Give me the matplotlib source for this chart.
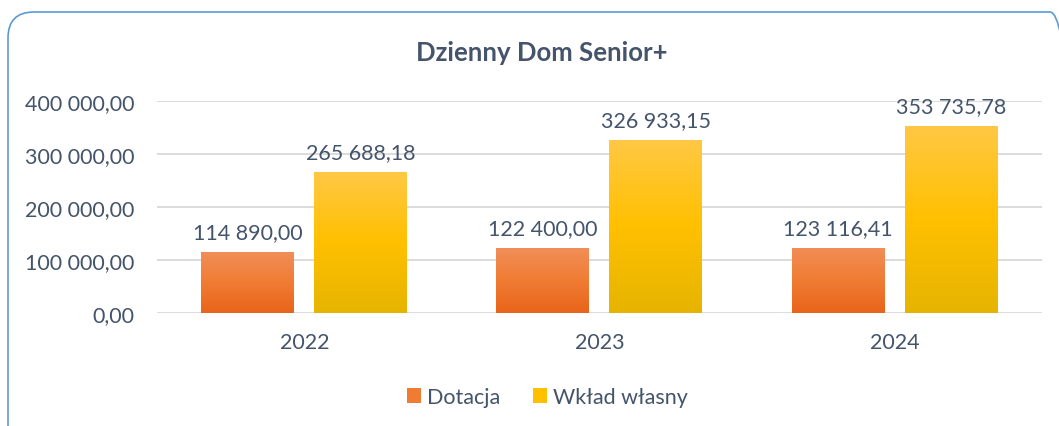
import numpy as np
import matplotlib
matplotlib.use("Agg")
import matplotlib.pyplot as plt
from matplotlib.patches import FancyBboxPatch, Patch
from matplotlib.transforms import IdentityTransform
from matplotlib.colors import LinearSegmentedColormap

plt.rcParams['font.family'] = ['Lato', 'DejaVu Sans']

# dane
years = ['2022', '2023', '2024']
dotacja = [114890.00, 122400.00, 123116.41]
wklad = [265688.18, 326933.15, 353735.78]
series_names = ['Dotacja', 'Wkład własny']

txt = '#44546A'
grid_c = '#D9D9D9'


def fmt(v):
    # format polski: spacja tysięcy, przecinek dziesiętny
    s = f"{v:,.2f}"
    return s.replace(',', ' ').replace('.', ',')


fig = plt.figure(figsize=(10.59, 4.27), dpi=100)
ax = fig.add_axes([0.148, 0.2646, 0.836, 0.4965])

# ramka z zaokrąglonymi rogami (współrzędne w pikselach)
frame = FancyBboxPatch((8, -30), 1068, 444, boxstyle="round,pad=0,rounding_size=26",
                       transform=IdentityTransform(), facecolor='none',
                       edgecolor='#5B9BD5', linewidth=1.2, clip_on=False)
fig.patches.append(frame)

x = np.arange(len(years))
w = 0.315
gap = 0.068

orange = LinearSegmentedColormap.from_list('o', ['#E8641A', '#F07C33', '#F18E58'])
yellow = LinearSegmentedColormap.from_list('y', ['#E6B400', '#FFC000', '#FFC845'])

b1 = ax.bar(x - (w + gap) / 2, dotacja, w, color='none', edgecolor='none')
b2 = ax.bar(x + (w + gap) / 2, wklad, w, color='none', edgecolor='none')

grad = np.linspace(0, 1, 256).reshape(-1, 1)
for bars, cmap in ((b1, orange), (b2, yellow)):
    for p in bars:
        x0, h = p.get_x(), p.get_height()
        im = ax.imshow(grad, cmap=cmap, origin='lower', aspect='auto',
                       extent=[x0, x0 + p.get_width(), 0, h], zorder=2)
        im.set_clip_path(p)
        ax.annotate(fmt(h), (x0 + p.get_width() / 2, h),
                    xytext=(0, 7), textcoords='offset points', ha='center', va='bottom',
                    fontsize=15.5, color=txt)

ax.set_xlim(-0.5, 2.5)
ax.set_ylim(0, 400000)
ax.set_yticks(np.arange(0, 400001, 100000))
ax.set_yticklabels([fmt(v) for v in np.arange(0, 400001, 100000)])
ax.set_xticks(x)
ax.set_xticklabels(years)
ax.tick_params(axis='both', length=0, labelsize=15.5, labelcolor=txt)
ax.tick_params(axis='y', pad=16)
ax.tick_params(axis='x', pad=14)
ax.grid(axis='y', color=grid_c, linewidth=1.3)
ax.set_axisbelow(True)
for s in ax.spines.values():
    s.set_visible(False)

fig.text(0.512, 0.876, 'Dzienny Dom Senior+', ha='center', va='center',
         fontsize=18.5, fontweight='bold', color=txt)

handles = [Patch(facecolor='#F07C33', label=series_names[0]),
           Patch(facecolor='#FFC000', label=series_names[1])]
fig.legend(handles=handles, loc='center', bbox_to_anchor=(0.517, 0.068), ncol=2,
           frameon=False, fontsize=15.5, labelcolor=txt, handlelength=0.65,
           handleheight=0.65, handletextpad=0.3, columnspacing=1.5)

fig.savefig('out.png', dpi=100)
